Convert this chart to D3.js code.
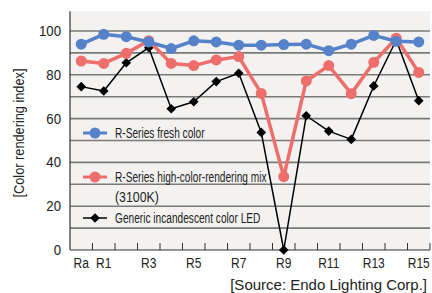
<!DOCTYPE html>
<html><head><meta charset="utf-8">
<script src="https://cdn.jsdelivr.net/npm/d3@7"></script>
<style>body{margin:0;background:#fff}svg{display:block}</style>
</head><body>
<script>
const categories = ["Ra","R1","R2","R3","R4","R5","R6","R7","R8","R9","R10","R11","R12","R13","R14","R15"];
const tickLabels = ["Ra","R1","R3","R5","R7","R9","R11","R13","R15"];
const yTicks = [0,20,40,60,80,100];
const seriesNames = ["R-Series fresh color","R-Series high-color-rendering mix","Generic incandescent color LED"];
const freshColor = [94,98.5,97.4,95,92,95.5,95,93.5,93.5,93.8,94,91,94,98,95.3,95];
const highCRMix = [86.3,85.2,89.8,95.6,85.2,84.2,86.8,88.3,71.5,33.5,77.2,84.2,71.4,85.7,96.7,81.1];
const incandescentLED = [74.6,72.6,85.5,92.4,64.5,67.7,76.9,80.7,53.7,0,61.3,54.3,50.5,74.9,95.9,68.2];

const W=432,H=293;
const m={l:70,r:2,t:11,b:43};
const svg=d3.select("body").append("svg").attr("width",W).attr("height",H);
const x=d3.scaleBand().domain(categories).range([m.l,W-m.r]);
const y=d3.scaleLinear().domain([0,109]).range([250,250-109*2.19]);
const FF="'Liberation Sans',Arial,sans-serif";

function txt(g,px,py,s,size,sx,anchor,rot){
  return g.append("text").attr("transform",`translate(${px},${py})`+(rot?` rotate(${rot})`:"")+` scale(${sx},1)`)
    .attr("text-anchor",anchor||"start").attr("font-family",FF).attr("font-size",size).attr("fill","#222").text(s);
}

svg.append("rect").attr("x",m.l).attr("y",y(109)).attr("width",W-m.r-m.l).attr("height",y(0)-y(109)).attr("fill","#f3f2f0");
svg.append("g").selectAll("line").data(d3.range(10,101,10)).join("line")
  .attr("x1",m.l).attr("x2",W-m.r).attr("y1",d=>y(d)).attr("y2",d=>y(d))
  .attr("stroke","#7a7a7a").attr("stroke-width",1.6);

// axes
svg.append("line").attr("x1",m.l).attr("x2",m.l).attr("y1",y(109)).attr("y2",y(0)).attr("stroke","#333").attr("stroke-width",1.2);
svg.append("line").attr("x1",m.l).attr("x2",W-m.r).attr("y1",y(0)).attr("y2",y(0)).attr("stroke","#333").attr("stroke-width",1.2);
svg.append("g").selectAll("line").data(categories.slice(1)).join("line")
  .attr("x1",d=>x(d)).attr("x2",d=>x(d)).attr("y1",y(0)).attr("y2",y(0)-7).attr("stroke","#333").attr("stroke-width",1);
svg.append("line").attr("x1",W-m.r).attr("x2",W-m.r).attr("y1",y(0)).attr("y2",y(0)-7).attr("stroke","#333");

const tg=svg.append("g");
yTicks.forEach(d=>txt(tg,61,y(d)+5,String(d),15,0.88,"end"));
tickLabels.forEach(d=>txt(tg,x(d)+x.bandwidth()/2,268,d,15,0.8,"middle"));

txt(svg,24,133,"[Color rendering index]",14.5,0.88,"middle",-90);
txt(svg,427,290,"[Source: Endo Lighting Corp.]",15,1,"end");

const cx=d=>x(d)+x.bandwidth()/2;
const line=d3.line().x((d,i)=>cx(categories[i])).y(d=>y(d));
function series(data,color,w,marker){
  svg.append("path").datum(data).attr("d",line).attr("fill","none").attr("stroke",color).attr("stroke-width",w).attr("stroke-linejoin","round");
  const g=svg.append("g");
  data.forEach((v,i)=>drawMarker(g,cx(categories[i]),y(v),color,marker));
}
function drawMarker(g,px,py,color,marker){
  if(marker==="circle") g.append("circle").attr("cx",px).attr("cy",py).attr("r",5.5).attr("fill",color);
  else g.append("path").attr("d",d3.symbol(d3.symbolDiamond2,60)()).attr("transform",`translate(${px},${py})`).attr("fill",color);
}
const cols=["#5582c8","#ee6e6c","#000"];

// legend
const lg=svg.append("g");
const leg=[{y:133,c:cols[0],w:3,m:"circle",t:[seriesNames[0]]},
           {y:177,c:cols[1],w:3,m:"circle",t:[seriesNames[1],"(3100K)"]},
           {y:218,c:cols[2],w:1.5,m:"diamond",t:[seriesNames[2]]}];
leg.forEach(l=>{
  lg.append("line").attr("x1",83).attr("x2",107).attr("y1",l.y).attr("y2",l.y).attr("stroke",l.c).attr("stroke-width",l.w);
  drawMarker(lg,95,l.y,l.c,l.m);
  l.t.forEach((t,j)=>txt(lg,115,l.y+5+j*20,t,14.5,j?0.85:0.7,"start"));
});

series(incandescentLED,cols[2],1.5,"diamond");
series(highCRMix,cols[1],3.5,"circle");
series(freshColor,cols[0],3.5,"circle");
</script>
</body></html>
